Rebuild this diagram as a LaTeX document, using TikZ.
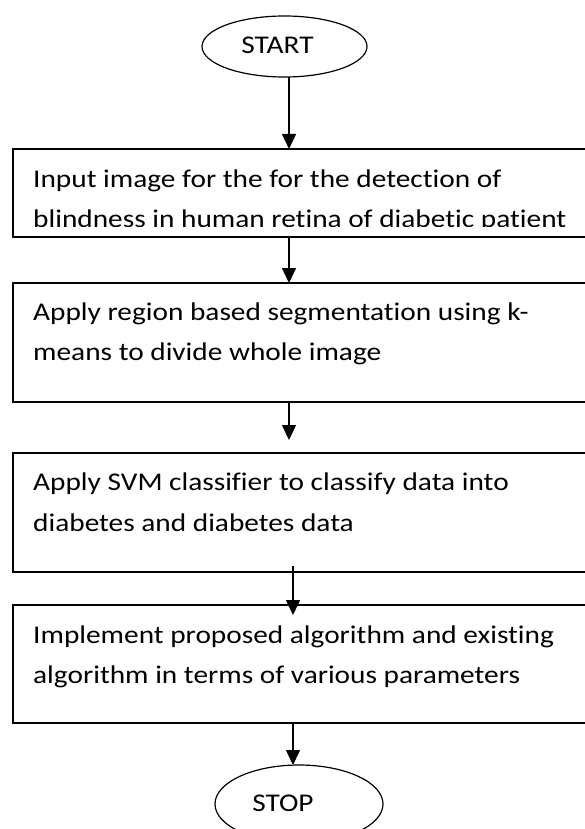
\documentclass[tikz,border=0pt]{standalone}
\usepackage{fontspec}
\setmainfont{Carlito}[FakeStretch=1.15,Ligatures=NoCommon]
\usetikzlibrary{arrows.meta,shapes.geometric}
\begin{document}
\begin{tikzpicture}[x=1pt,y=-1pt,
  box/.style={draw, line width=1.4pt, anchor=north west, inner sep=0pt, outer sep=0pt, minimum width=590pt},
  term/.style={draw, ellipse, line width=1.2pt, inner sep=0pt, outer sep=0pt},
  txt/.style={anchor=base west, inner sep=0pt, font=\fontsize{25.5}{40}\selectfont},
  lbl/.style={anchor=base, inner sep=0pt, font=\fontsize{25.5}{40}\selectfont},
  arr/.style={line width=1.4pt, -{Triangle[width=14pt,length=15pt]}}]
\useasboundingbox (0,0) rectangle (584,829);
\fill[white] (0,0) rectangle (584,829);

\node[term, minimum width=165pt, minimum height=61pt] (start) at (284.5,46.5) {};
\node[lbl] (starttxt) at (277.5,54) {START};

\node[box, minimum height=88pt] (b1) at (13,149) {};
\begin{scope}
  \clip (13,149) rectangle (600,226.5);
  \node[txt] (t1a) at (33,187) {Input image for the for the detection of};
  \node[txt] (t1b) at (33,227) {blindness in human retina of diabetic patient};
\end{scope}

\node[box, minimum height=119pt] (b2) at (13,283) {};
\node[txt] (t2a) at (33,320) {Apply region based segmentation using k-};
\node[txt] (t2b) at (33,360) {means to divide whole image};

\node[box, minimum height=119pt] (b3) at (13,453) {};
\node[txt] (t3a) at (33,490) {Apply SVM classifier to classify data into};
\node[txt] (t3b) at (33,531) {diabetes and diabetes data};

\node[box, minimum height=118pt] (b4) at (13,605) {};
\node[txt] (t4a) at (33,643) {Implement proposed algorithm and existing};
\node[txt] (t4b) at (33,683) {algorithm in terms of various parameters};

\node[term, minimum width=168pt, minimum height=78pt] (stop) at (299,804) {};
\node[lbl] (stoptxt) at (283,811.5) {STOP};

\coordinate (xa) at (289,0);
\coordinate (xb) at (293,0);
\coordinate (e3) at ([yshift=13pt]b3.north);
\coordinate (s4) at ([yshift=6pt]b3.south);
\coordinate (e4) at ([yshift=-10pt]b4.north);

\draw[arr] (start.south -| xa) -- (b1.north -| xa);
\draw[arr] (b1.south -| xa) -- (b2.north -| xa);
\draw[arr] (b2.south -| xa) -- (e3 -| xa);
\draw[arr] (s4 -| xb) -- (e4 -| xb);
\draw[arr] (b4.south -| xb) -- (stop.north -| xb);
\end{tikzpicture}
\end{document}
